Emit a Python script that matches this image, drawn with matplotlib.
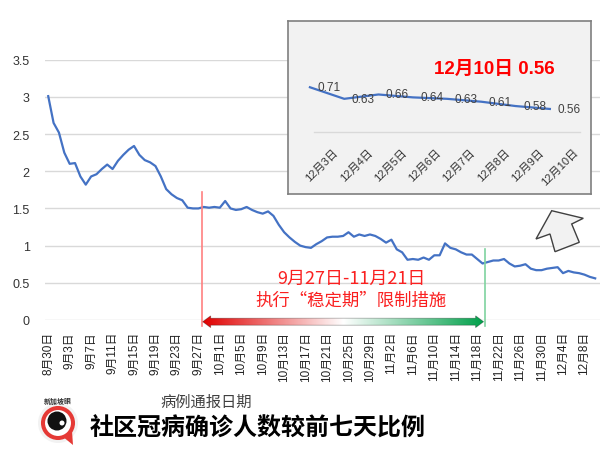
import matplotlib
matplotlib.use('Agg')
import matplotlib.pyplot as plt
import numpy as np
import pandas as pd
from matplotlib.patches import Polygon, Circle
from matplotlib.colors import LinearSegmentedColormap

plt.rcParams['font.family'] = ['Liberation Sans', 'Noto Sans CJK SC']

# ratio of community cases vs. 7 days earlier, one value per day from 30 Aug
start_date = '2022-08-30'
ratio = [3.01, 2.65, 2.52, 2.25, 2.10, 2.11, 1.93, 1.82, 1.93, 1.96,
         2.03, 2.09, 2.03, 2.14, 2.22, 2.29, 2.34, 2.22, 2.15, 2.12,
         2.07, 1.93, 1.76, 1.69, 1.64, 1.61, 1.51, 1.50, 1.50, 1.52,
         1.51, 1.52, 1.51, 1.60, 1.50, 1.48, 1.49, 1.52, 1.48, 1.45,
         1.43, 1.46, 1.40, 1.28, 1.18, 1.11, 1.05, 1.00, 0.98, 0.97,
         1.02, 1.06, 1.11, 1.12, 1.12, 1.13, 1.18, 1.12, 1.15, 1.13,
         1.15, 1.13, 1.09, 1.04, 1.08, 0.95, 0.91, 0.81, 0.82, 0.81,
         0.84, 0.81, 0.87, 0.87, 1.03, 0.97, 0.95, 0.91, 0.88, 0.88,
         0.82, 0.76, 0.78, 0.80, 0.80, 0.82, 0.76, 0.72, 0.73, 0.75,
         0.69, 0.67, 0.67, 0.69, 0.70, 0.71, 0.63, 0.66, 0.64, 0.63,
         0.61, 0.58, 0.56]
dates = pd.date_range(start_date, periods=len(ratio), freq='D')
day_labels = [f'{d.month}月{d.day}日' for d in dates]
tick_step = 4
zoom_days = 8

period_dates = '9月27日-11月21日'
period_text = '执行“稳定期”限制措施'
title = '社区冠病确诊人数较前七天比例'
xlabel = '病例通报日期'

# positions (in day index) of the period markers
red_x, green_x = 28.6, 81.5
arrow_x0, arrow_x1 = 28.8, 81.2

W, H = 601, 460
fig = plt.figure(figsize=(W / 100, H / 100), dpi=100)

# ---- main chart
ax = fig.add_axes([45 / W, 1 - 321 / H, 555 / W, (321 - 60.7) / H])
x = np.arange(len(ratio))
ax.plot(x, ratio, color='#4472c4', lw=1.6, zorder=3, solid_joinstyle='round')
yt = np.arange(0, 3.51, 0.5)
ax.set_yticks(yt)
ax.set_yticklabels([f'{v:g}' for v in yt])
ax.set_xticks(x[::tick_step])
ax.set_xticklabels(day_labels[::tick_step], rotation=90)
ax.tick_params(axis='y', length=0, pad=11, labelsize=9, labelcolor='#333333')
ax.tick_params(axis='x', length=0, pad=8, labelsize=8.5, labelcolor='#222222')
ax.yaxis.grid(True, color='#d9d9d9', lw=1)
ax.set_axisbelow(True)
for s in ax.spines.values():
    s.set_visible(False)

# period markers
ax.plot([red_x, red_x], [-0.08, 1.72], color='#ff8080', lw=1.2, clip_on=False, zorder=4)
ax.plot([green_x, green_x], [-0.08, 0.95], color='#7fd3a0', lw=1.2, clip_on=False, zorder=4)

yc, hs, hh, hl = -0.023, 0.047, 0.08, 1.5
pts = [(arrow_x0, yc), (arrow_x0 + hl, yc + hh), (arrow_x0 + hl, yc + hs),
       (arrow_x1 - hl, yc + hs), (arrow_x1 - hl, yc + hh), (arrow_x1, yc),
       (arrow_x1 - hl, yc - hh), (arrow_x1 - hl, yc - hs),
       (arrow_x0 + hl, yc - hs), (arrow_x0 + hl, yc - hh)]
arrow_poly = Polygon(pts, closed=True, fc='none', ec=(0, 0, 0, 0.3), lw=0.6,
                     clip_on=False, zorder=6)
ax.add_patch(arrow_poly)
cmap = LinearSegmentedColormap.from_list('rg', [(0, '#e00000'), (0.5, '#ffffff'), (1, '#00a04a')])
grad = np.linspace(0, 1, 256).reshape(1, -1)
im = ax.imshow(grad, cmap=cmap, aspect='auto', extent=(arrow_x0, arrow_x1, yc - hh, yc + hh),
               zorder=5, interpolation='bilinear')
im.set_clip_path(arrow_poly)
im.set_clip_box(fig.bbox)
ax.set_xlim(-0.6, 102.9)
ax.set_ylim(0, 3.5)

ax.text(56.5, 0.563, period_dates, color='#fa2020', fontsize=13, ha='center', va='center',
        family='Noto Sans CJK SC', zorder=6)
ax.text(56.5, 0.28, period_text, color='#fa2020', fontsize=12.5, ha='center', va='center',
        family='Noto Sans CJK SC', zorder=6)

# ---- zoomed inset for the last days
axin = fig.add_axes([288 / W, 1 - 195 / H, 303 / W, 173 / H])
axin.set_facecolor('#f2f2f2')
zx = np.arange(zoom_days)
zv = ratio[-zoom_days:]
axin.plot(zx, zv, color='#4472c4', lw=1.6)
axin.set_xlim(-0.64, 8.2)
axin.set_ylim(-0.028, 1.168)
axin.axhline(0.4, xmin=0.086, xmax=0.964, color='#d9d9d9', lw=1)
for s in axin.spines.values():
    s.set_color('#7f7f7f')
    s.set_linewidth(1.2)
axin.set_xticks([])
axin.set_yticks([])
for i, v in zip(zx, zv):
    axin.annotate(f'{v:.2f}', (i, v), xytext=(19, 0), textcoords='offset pixels',
                  ha='center', va='center', fontsize=8.5, color='#404040')
for i, lab in zip(zx, day_labels[-zoom_days:]):
    axin.text(i + 0.67, 0.30, lab, rotation=45, rotation_mode='anchor', ha='right', va='top',
              fontsize=8, color='#333333')
axin.text(5.39, 0.843, f'{day_labels[-1]} {ratio[-1]:.2f}', color='#ff0000', fontsize=13.5,
          fontweight='bold', ha='center', va='center')

# ---- decorations in pixel space
deco = fig.add_axes([0, 0, 1, 1], zorder=10)
deco.set_xlim(0, W)
deco.set_ylim(H, 0)
deco.axis('off')
deco.add_patch(Polygon([(551.7, 211.7), (583.3, 219.3), (571.7, 225), (579.3, 243.3),
                        (555, 252.7), (550, 235), (536, 240)], closed=True,
                       fc='#f2f2f2', ec='#404040', lw=1))

# logo
deco.add_patch(Circle((58, 424), 20, fc='#f2f2f2', ec='none'))
deco.add_patch(Polygon([(62, 437), (73, 446), (72, 432)], closed=True, fc='#e53935', ec='none'))
deco.add_patch(Circle((58, 424), 15, fc='white', ec='#e53935', lw=2.9))
deco.add_patch(Circle((57, 422), 9.5, fc='#111111', ec='none'))
deco.add_patch(Circle((62, 424), 2.5, fc='white', ec='none'))
deco.text(58, 401, '新加坡眼', fontsize=5, fontweight='bold', ha='center', va='center',
          color='#333333', family='Noto Sans CJK SC')

fig.text(206 / W, 1 - 402 / H, xlabel, fontsize=11, ha='center', va='center', color='#404040',
         family='Noto Sans CJK SC')
fig.text(90 / W, 1 - 429 / H, title, fontsize=17.3, fontweight='bold', ha='left', va='center',
         family='Noto Sans CJK SC', color='black')

fig.savefig('out.png', dpi=100)
